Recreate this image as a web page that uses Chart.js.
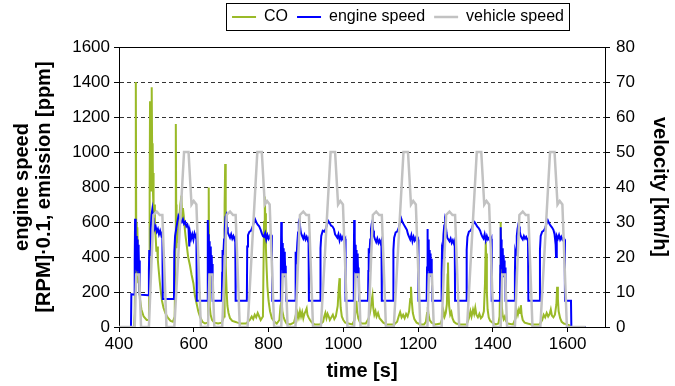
<!DOCTYPE html>
<html>
<head>
<meta charset="utf-8">
<script src="https://cdn.jsdelivr.net/npm/chart.js@4"></script>
<style>
html, body { margin: 0; padding: 0; background: #fff; }
</style>
</head>
<body>
<canvas id="chart" width="675" height="386"></canvas>
<script>
// time axis labels
const timeTicks = [400, 600, 800, 1000, 1200, 1400, 1600];

// CO emission [ppm], pairs of [time s, value]
const coEmission = [
  [400,0],[440,0],[442,80],[444,500],[445,1400],[446,600],[447,250],[448,420],[449,570],[451,380],[453,270],[456,160],[460,100],[466,60],[474,40],[480,40],
  [481,300],[482,760],[483,1290],[484,850],[485,1100],[486,780],[487,1250],[488,1370],[489,900],[490,1050],[491,760],[492,880],[493,640],[494,700],[496,560],[498,520],[500,430],[502,460],[504,380],[506,330],[509,260],[512,200],[515,150],[519,110],[524,80],[530,55],[538,35],[544,30],
  [549,60],[551,500],[552,1160],[553,700],[554,450],[556,560],[558,480],[561,620],[564,700],[567,750],[569,620],[571,680],[573,640],[576,560],[578,520],[581,470],[585,400],[590,350],[594,300],[599,250],[603,180],[608,130],[612,90],[617,57],[623,30],
  [630,20],[637,25],[638,150],[639,500],[640,797],[641,400],[642,200],[643,120],[645,70],[649,40],[655,25],[665,20],[675,25],[681,60],[682,300],[683,700],[684,932],[685,600],[686,350],[688,200],[690,120],[693,80],[697,50],[703,35],[710,30],[717,25],[725,20],[740,20],
  [750,40],[755,60],[759,45],[763,70],[767,55],[771,80],[775,60],[779,40],[785,60],[786,250],[788,600],[790,745],[791,650],[793,450],[795,330],[797,230],[800,150],[804,90],[809,50],[816,30],
  [822,20],[829,40],[832,120],[835,150],[837,90],[840,60],[843,40],[848,20],[858,15],[868,25],[872,60],[875,40],[878,80],[881,55],[884,90],[887,60],[890,85],[893,50],[896,75],[900,95],[902,106],[904,70],[907,55],[911,40],[916,25],[923,15],[938,15],
  [946,30],[949,60],[952,80],[955,50],[958,75],[961,60],[964,40],[968,55],[972,70],[976,45],[980,60],[985,120],[988,230],[990,279],[991,200],[993,110],[996,60],[1000,40],[1005,25],[1014,20],
  [1024,15],[1030,40],[1033,100],[1035,150],[1037,90],[1040,50],[1044,30],[1050,20],[1060,20],[1068,50],[1072,90],[1075,140],[1078,180],[1080,110],[1083,70],[1086,90],[1089,60],[1093,80],[1097,50],[1101,40],[1107,25],[1116,15],[1136,15],
  [1144,30],[1148,60],[1152,85],[1156,55],[1160,70],[1164,50],[1168,75],[1172,60],[1176,90],[1179,160],[1181,230],[1183,150],[1186,80],[1190,45],[1196,25],[1206,15],
  [1216,15],[1221,30],[1224,80],[1226,115],[1228,70],[1231,40],[1236,25],[1246,15],[1260,20],[1265,50],[1268,90],[1271,60],[1274,80],[1277,130],[1279,300],[1280,368],[1281,250],[1283,120],[1286,70],[1289,85],[1292,50],[1296,30],[1302,20],[1312,15],[1330,15],
  [1336,50],[1340,90],[1343,60],[1347,100],[1350,75],[1353,110],[1356,70],[1360,55],[1364,75],[1368,50],[1372,60],[1376,90],[1379,250],[1381,486],[1382,420],[1384,200],[1386,100],[1389,55],[1393,35],[1399,25],[1408,15],
  [1415,20],[1418,60],[1420,300],[1421,600],[1422,350],[1424,120],[1426,70],[1429,45],[1432,60],[1435,35],[1440,20],[1454,15],[1461,50],[1464,95],[1467,70],[1470,100],[1473,80],[1475,125],[1477,70],[1480,40],[1485,25],[1493,20],[1503,15],[1525,15],
  [1532,40],[1536,70],[1540,55],[1544,80],[1548,60],[1552,75],[1555,100],[1558,65],[1562,55],[1566,70],[1570,130],[1572,230],[1574,160],[1576,90],[1580,50],[1584,30],[1590,20],[1598,15],[1605,10],[1609,0],[1648,0]
];

// engine speed [RPM*0.1], pairs of [time s, value]
const engineSpeed = [
  [400,0],[432,0],[433,188],[441,185],[442,380],[443,618],[444,420],[445,540],[446,340],[447,520],[448,330],[449,500],[450,320],[451,470],[452,340],[453,440],[454,300],[455,380],[456,185],
  [479,182],[480,330],[481,440],[483,410],[485,560],[487,640],[489,670],[491,625],[493,590],[495,560],[498,575],[501,545],[504,560],[507,530],[510,550],[513,525],[516,540],[517,160],
  [547,160],[548,430],[550,520],[553,560],[556,600],[559,635],[562,620],[565,610],[568,600],[571,615],[574,590],[577,600],[580,575],[583,585],[586,560],[588,460],[590,540],[593,505],[596,530],[599,500],[602,535],[605,515],[607,525],[608,150],
  [636,150],[637,360],[638,612],[639,430],[640,530],[641,340],[642,490],[643,300],[644,460],[645,330],[646,440],[647,300],[648,410],[649,290],[650,360],[651,150],
  [675,150],[676,310],[677,440],[679,410],[681,500],[683,560],[685,630],[687,640],[689,570],[691,540],[694,525],[697,510],[700,530],[703,505],[706,520],[709,500],[711,510],[712,150],
  [742,150],[743,460],[745,525],[749,545],[753,550],[757,570],[761,600],[764,615],[767,600],[771,585],[775,575],[779,555],[782,535],[785,520],[788,515],[791,535],[794,500],[797,525],[800,505],[803,520],[806,500],[809,510],[810,150],
  [832,150],[833,350],[834,600],[835,420],[836,520],[837,330],[838,480],[839,290],[840,450],[841,320],[842,430],[843,290],[844,400],[845,300],[846,350],[847,150],
  [871,150],[872,300],[873,430],[875,400],[877,480],[879,540],[881,600],[883,615],[885,560],[887,535],[890,520],[893,505],[896,525],[899,500],[902,515],[905,495],[907,505],[908,150],
  [938,150],[939,450],[941,520],[945,550],[949,545],[953,560],[957,590],[960,605],[963,595],[967,580],[971,575],[975,560],[978,530],[981,520],[984,510],[987,530],[990,495],[993,520],[996,500],[999,515],[1002,495],[1005,505],[1006,150],
  [1027,150],[1028,360],[1029,612],[1030,400],[1031,510],[1032,320],[1033,470],[1034,300],[1035,440],[1036,310],[1037,420],[1038,280],[1039,390],[1040,290],[1041,340],[1042,150],
  [1066,150],[1067,320],[1068,450],[1070,420],[1072,500],[1074,560],[1076,590],[1078,605],[1080,550],[1082,520],[1085,500],[1088,485],[1091,505],[1094,480],[1097,495],[1100,475],[1102,490],[1103,150],
  [1133,150],[1134,440],[1136,510],[1140,540],[1144,545],[1148,565],[1152,600],[1155,620],[1158,600],[1162,585],[1166,570],[1170,555],[1173,530],[1176,515],[1179,500],[1182,525],[1185,490],[1188,515],[1191,495],[1194,510],[1197,490],[1200,500],[1201,150],
  [1223,150],[1224,340],[1225,560],[1226,400],[1227,500],[1228,320],[1229,460],[1230,300],[1231,440],[1232,310],[1233,420],[1234,290],[1235,390],[1236,300],[1237,340],[1238,150],
  [1262,150],[1263,310],[1264,440],[1266,420],[1268,530],[1270,580],[1272,600],[1274,580],[1276,540],[1278,510],[1281,500],[1284,490],[1287,505],[1290,480],[1293,495],[1296,475],[1298,490],[1299,150],
  [1329,150],[1330,440],[1332,515],[1336,545],[1340,550],[1344,565],[1348,590],[1351,600],[1354,590],[1358,575],[1362,565],[1366,550],[1369,530],[1372,515],[1375,505],[1378,530],[1381,495],[1384,520],[1387,500],[1390,510],[1393,490],[1396,505],[1397,150],
  [1419,150],[1420,350],[1421,570],[1422,410],[1423,500],[1424,330],[1425,450],[1426,300],[1427,430],[1428,320],[1429,410],[1430,290],[1431,380],[1432,300],[1433,340],[1434,150],
  [1458,150],[1459,310],[1460,430],[1462,410],[1464,520],[1466,560],[1468,583],[1470,575],[1472,545],[1474,525],[1477,510],[1480,500],[1483,520],[1486,505],[1489,515],[1492,500],[1494,505],[1495,150],
  [1525,150],[1526,440],[1528,520],[1532,545],[1536,550],[1540,565],[1544,595],[1547,610],[1550,595],[1554,580],[1558,570],[1562,555],[1565,530],[1568,470],[1569,400],[1571,520],[1574,505],[1577,525],[1580,500],[1583,515],[1586,500],[1589,510],[1592,500],[1593,150],
  [1609,150],[1610,0],[1648,0]
];

// vehicle speed [km/h], pairs of [time s, value]
const vehicleSpeed = [
  [400,0],
  [442,0],[446,15],[454,15],[459,0],[480,0],[492,32],[501,33],[509,32],[516,32],[527,0],[548,0],[574,50],[586,50],[594,35],[600,36],[607,35],[619,0],
  [638,0],[642,15],[650,15],[655,0],[676,0],[688,32],[697,33],[705,32],[712,32],[723,0],[744,0],[770,50],[782,50],[790,35],[796,36],[803,35],[815,0],
  [834,0],[838,15],[846,15],[851,0],[872,0],[884,32],[893,33],[901,32],[908,32],[919,0],[940,0],[966,50],[978,50],[986,35],[992,36],[999,35],[1011,0],
  [1029,0],[1033,15],[1041,15],[1046,0],[1067,0],[1079,32],[1088,33],[1096,32],[1103,32],[1114,0],[1135,0],[1161,50],[1173,50],[1181,35],[1187,36],[1194,35],[1206,0],
  [1225,0],[1229,15],[1237,15],[1242,0],[1263,0],[1275,32],[1284,33],[1292,32],[1299,32],[1310,0],[1331,0],[1357,50],[1369,50],[1377,35],[1383,36],[1390,35],[1402,0],
  [1421,0],[1425,15],[1433,15],[1438,0],[1459,0],[1471,32],[1480,33],[1488,32],[1495,32],[1506,0],[1527,0],[1553,50],[1565,50],[1573,35],[1579,36],[1586,35],[1598,0],
  [1648,0]
];

Chart.defaults.font.family = "'Liberation Sans', Arial, sans-serif";
Chart.defaults.color = '#000';

const tickFont = { size: 17 };
const titleFont = { size: 20, weight: 'bold', lineHeight: 1.1 };
const plainNumber = (v) => String(v);

// box around the legend, legend moved a little right like the original
const legendBox = {
  id: 'legendBox',
  afterLayout(chart) {
    const lg = chart.legend;
    lg.left = 121;
    lg.right = 675;
  },
  afterDraw(chart) {
    const boxes = chart.legend.legendHitBoxes;
    if (!boxes || !boxes.length) return;
    const ctx = chart.ctx;
    const last = boxes[boxes.length - 1];
    const x1 = Math.round(boxes[0].left - 6);
    const x2 = Math.round(last.left + last.width + 5);
    ctx.save();
    ctx.strokeStyle = '#000';
    ctx.lineWidth = 1;
    ctx.strokeRect(x1 + 0.5, 3.5, x2 - x1, 27);
    ctx.restore();
  }
};

new Chart(document.getElementById('chart'), {
  type: 'line',
  data: {
    datasets: [
      {
        label: 'CO',
        data: coEmission,
        borderColor: '#9aba28',
        borderWidth: 2,
        yAxisID: 'y',
        order: 3
      },
      {
        label: 'engine speed',
        data: engineSpeed,
        borderColor: '#0000ff',
        borderWidth: 2,
        yAxisID: 'y',
        order: 2
      },
      {
        label: 'vehicle speed',
        data: vehicleSpeed,
        borderColor: '#c2c2c2',
        borderWidth: 2.5,
        yAxisID: 'y2',
        order: 1
      }
    ]
  },
  options: {
    responsive: false,
    animation: false,
    devicePixelRatio: 1,
    layout: { padding: 0 },
    elements: {
      point: { radius: 0 },
      line: { tension: 0, fill: false }
    },
    plugins: {
      tooltip: { enabled: false },
      legend: {
        position: 'top',
        labels: {
          usePointStyle: true,
          pointStyle: 'line',
          pointStyleWidth: 24,
          font: { size: 16 },
          color: '#000',
          padding: 9,
          sort: (a, b) => a.datasetIndex - b.datasetIndex
        }
      }
    },
    scales: {
      x: {
        type: 'linear',
        position: 'bottom',
        min: 400,
        max: 1700,
        afterBuildTicks: (s) => { s.ticks = timeTicks.map(v => ({ value: v })); },
        afterFit: (s) => { s.height = 59; },
        grid: { drawOnChartArea: false, tickLength: 5, tickColor: '#000' },
        border: { color: '#000' },
        ticks: { font: tickFont, color: '#000', padding: 2, maxRotation: 0, autoSkip: false, callback: plainNumber },
        title: { display: true, text: 'time [s]', font: titleFont, color: '#000', padding: { top: 0, bottom: 4 } }
      },
      x2: {
        type: 'linear',
        position: 'top',
        min: 400,
        max: 1700,
        afterFit: (s) => { s.height = 12; },
        grid: { display: false, drawTicks: false },
        ticks: { display: false },
        border: { display: true, color: '#000' }
      },
      y: {
        position: 'left',
        min: 0,
        max: 1600,
        afterFit: (s) => { s.width = 119; },
        ticks: { stepSize: 200, font: tickFont, color: '#000', padding: 4, callback: plainNumber },
        grid: {
          color: (c) => (c.tick && (c.tick.value === 0 || c.tick.value === 1600)) ? 'rgba(0,0,0,0)' : '#333',
          lineWidth: 1,
          tickLength: 5,
          tickColor: '#000'
        },
        border: { color: '#000', dash: [4, 3] },
        title: {
          display: true,
          text: ['engine speed', '[RPM]·0.1, emission [ppm]'],
          font: titleFont,
          color: '#000',
          padding: { top: 11, bottom: 0 }
        }
      },
      y2: {
        position: 'right',
        min: 0,
        max: 80,
        afterFit: (s) => { s.width = 70; },
        ticks: { stepSize: 10, font: tickFont, color: '#000', padding: 6, callback: plainNumber },
        grid: { drawOnChartArea: false, tickLength: 5, tickColor: '#000' },
        border: { color: '#000' },
        title: { display: true, text: 'velocity [km/h]', font: titleFont, color: '#000', padding: { top: 4, bottom: 0 } }
      }
    }
  },
  plugins: [legendBox]
});
</script>
</body>
</html>
